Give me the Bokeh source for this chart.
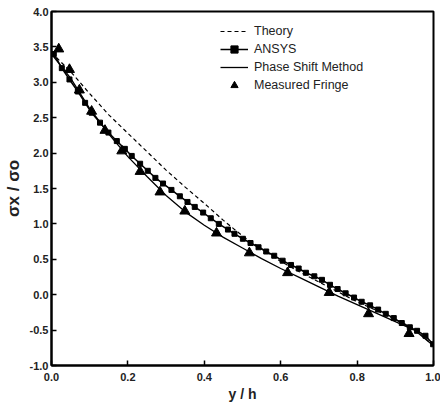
from bokeh.plotting import figure
from bokeh.models import Legend, LegendItem, NumeralTickFormatter, FixedTicker
from bokeh.embed import file_html
from bokeh.resources import INLINE

# Theory (dashed)
theory_x = [0.0, 0.05, 0.1, 0.15, 0.2, 0.25, 0.3, 0.35, 0.4, 0.45, 0.5, 0.55, 0.6, 0.65, 0.7, 0.75, 0.8, 0.85, 0.9, 0.95, 1.0]
theory_y = [3.42, 3.15, 2.84, 2.54, 2.28, 2.02, 1.76, 1.52, 1.29, 1.05, 0.83, 0.65, 0.47, 0.32, 0.18, 0.04, -0.10, -0.22, -0.35, -0.48, -0.72]

# ANSYS (line + squares)
ansys_x = [0.006, 0.027, 0.047, 0.069, 0.088, 0.105, 0.127, 0.149, 0.171, 0.192, 0.210, 0.232,
           0.252, 0.272, 0.292, 0.314, 0.336, 0.356, 0.375, 0.397, 0.417, 0.438, 0.462, 0.479,
           0.501, 0.521, 0.542, 0.562, 0.583, 0.605, 0.627, 0.647, 0.666, 0.688, 0.708, 0.729,
           0.749, 0.770, 0.792, 0.812, 0.834, 0.855, 0.875, 0.896, 0.917, 0.938, 0.957, 0.979, 0.999]
ansys_y = [3.40, 3.20, 3.04, 2.87, 2.71, 2.57, 2.43, 2.29, 2.17, 2.06, 1.96, 1.85,
           1.75, 1.65, 1.57, 1.48, 1.39, 1.31, 1.24, 1.16, 1.08, 1.00, 0.92, 0.86,
           0.79, 0.73, 0.67, 0.61, 0.55, 0.48, 0.42, 0.37, 0.31, 0.26, 0.21, 0.14,
           0.08, 0.02, -0.04, -0.10, -0.15, -0.21, -0.27, -0.33, -0.40, -0.46, -0.51, -0.58, -0.70]

# Phase Shift Method (solid)
phase_x = [0.0, 0.05, 0.1, 0.15, 0.2, 0.25, 0.3, 0.35, 0.4, 0.45, 0.5, 0.55, 0.6, 0.65, 0.7, 0.75, 0.8, 0.85, 0.9, 0.95, 1.0]
phase_y = [3.40, 3.06, 2.63, 2.27, 1.95, 1.67, 1.40, 1.17, 0.98, 0.81, 0.66, 0.51, 0.37, 0.24, 0.11, -0.02, -0.14, -0.26, -0.38, -0.50, -0.72]

# Measured Fringe (triangles)
fringe_x = [0.019, 0.047, 0.073, 0.105, 0.140, 0.184, 0.232, 0.284, 0.349, 0.432, 0.518, 0.618, 0.727, 0.830, 0.936]
fringe_y = [3.47, 3.18, 2.89, 2.59, 2.32, 2.03, 1.74, 1.45, 1.18, 0.87, 0.59, 0.31, 0.03, -0.27, -0.55]

x_ticks = [0.0, 0.2, 0.4, 0.6, 0.8, 1.0]
y_ticks = [-1.0, -0.5, 0.0, 0.5, 1.0, 1.5, 2.0, 2.5, 3.0, 3.5, 4.0]

p = figure(width=440, height=404, x_range=(0, 1), y_range=(-1, 4),
           output_backend="svg", toolbar_location=None,
           min_border_left=47, min_border_right=7, min_border_top=11, min_border_bottom=34)
p.grid.visible = False
p.outline_line_color = "black"
p.outline_line_width = 2
p.background_fill_color = "white"
p.border_fill_color = "white"

for ax in (p.xaxis[0], p.yaxis[0]):
    ax.axis_line_width = 2
    ax.major_tick_in = 5
    ax.major_tick_out = 0
    ax.major_tick_line_width = 1.5
    ax.minor_tick_line_color = None
    ax.major_label_text_font = "Liberation Sans"
    ax.major_label_text_font_size = "11px"
    ax.major_label_text_font_style = "bold"
    ax.major_label_text_color = "#222222"
    ax.axis_label_text_font = "Liberation Sans"
    ax.axis_label_text_font_style = "bold"
    ax.axis_label_text_color = "#222222"

p.xaxis.ticker = FixedTicker(ticks=x_ticks)
p.yaxis.ticker = FixedTicker(ticks=y_ticks)
p.xaxis.formatter = NumeralTickFormatter(format="0.0")
p.yaxis.formatter = NumeralTickFormatter(format="0.0")
p.xaxis.axis_label = "y / h"
p.xaxis.axis_label_text_font_size = "14px"
p.xaxis.axis_label_standoff = 2
p.xaxis.major_label_standoff = 7
p.yaxis.axis_label = "σx / σo"
p.yaxis.axis_label_text_font_size = "17px"
p.yaxis.axis_label_standoff = 4
p.yaxis.major_label_standoff = 3

r_theory = p.line(theory_x, theory_y, line_color="black", line_width=1.2, line_dash="4 3")
r_ansys_l = p.line(ansys_x, ansys_y, line_color="black", line_width=1.5)
r_ansys_m = p.scatter(ansys_x, ansys_y, marker="square", size=5, fill_color="black", line_color="black")
r_phase = p.line(phase_x, phase_y, line_color="black", line_width=1.3)
r_fringe = p.scatter(fringe_x, fringe_y, marker="triangle", size=10, fill_color="black", line_color="black")

legend = Legend(items=[
    LegendItem(label="Theory", renderers=[r_theory]),
    LegendItem(label="ANSYS", renderers=[r_ansys_l, r_ansys_m]),
    LegendItem(label="Phase Shift Method", renderers=[r_phase]),
    LegendItem(label="Measured Fringe", renderers=[r_fringe]),
], location=(169, 271))
legend.border_line_color = None
legend.background_fill_alpha = 0
legend.padding = 0
legend.margin = 0
legend.spacing = 0
legend.glyph_width = 28
legend.glyph_height = 18
legend.label_height = 18
legend.label_standoff = 6
legend.label_text_font = "Liberation Sans"
legend.label_text_font_size = "12.5px"
legend.label_text_color = "#222222"
p.add_layout(legend, "center")

open("out.html", "w").write(file_html(p, INLINE))
